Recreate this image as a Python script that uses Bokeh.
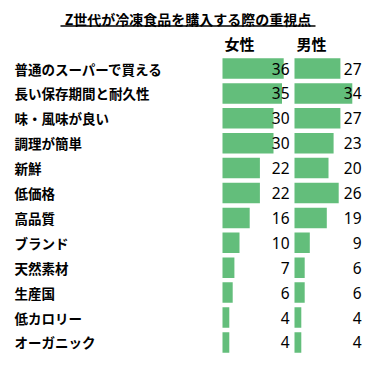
from bokeh.plotting import figure
from bokeh.models import ColumnDataSource, Range1d
from bokeh.core.properties import value
from bokeh.embed import file_html
from bokeh.resources import INLINE

title = "Z世代が冷凍食品を購入する際の重視点"
headers = ["女性", "男性"]
categories = ["普通のスーパーで買える", "長い保存期間と耐久性", "味・風味が良い", "調理が簡単",
              "新鮮", "低価格", "高品質", "ブランド", "天然素材", "生産国", "低カロリー", "オーガニック"]
female = [36, 35, 30, 30, 22, 22, 16, 10, 7, 6, 4, 4]
male = [27, 34, 27, 23, 20, 26, 19, 9, 6, 6, 4, 4]

W, H = 370, 360
PX = 1.7          # pixels per percentage point
ROW = 24.9        # row pitch in px
Y0 = 68           # first row centre (page px)
F0, M0 = 222, 294 # bar origins (page px)

rows = list(range(len(categories)))
src = ColumnDataSource(dict(y=rows, cat=categories, f=female, m=male,
                            ft=[str(v) for v in female], mt=[str(v) for v in male]))

p = figure(width=W, height=H, output_backend="svg", toolbar_location=None,
           x_range=Range1d(0, W),
           y_range=Range1d((H - Y0) / ROW, (0 - Y0) / ROW),
           min_border=0, outline_line_color=None)
p.axis.visible = False
p.grid.visible = False
p.extra_x_ranges = {
    "f": Range1d((0 - F0) / PX, (W - F0) / PX),
    "m": Range1d((0 - M0) / PX, (W - M0) / PX),
}

green = "#63BE7B"
p.hbar(y="y", left=0, right="f", height=20.5 / ROW, source=src, x_range_name="f",
       fill_color=green, line_color=None)
p.hbar(y="y", left=0, right="m", height=20.5 / ROW, source=src, x_range_name="m",
       fill_color=green, line_color=None)

jp = value("Noto Sans CJK JP")
p.text(x=14, y="y", text="cat", source=src, text_font=jp, text_font_style="bold",
       text_font_size="13.5px", text_baseline="middle", text_align="left", text_color="#000000")

num = value("Noto Sans")
p.text(x=289, y="y", text="ft", source=src, text_font=num, text_font_size="15.5px",
       text_baseline="middle", text_align="right", text_color="#000000")
p.text(x=361, y="y", text="mt", source=src, text_font=num, text_font_size="15.5px",
       text_baseline="middle", text_align="right", text_color="#000000")

# headers
hy = (43 - Y0) / ROW
p.text(x=[239, 311], y=[hy, hy], text=headers, text_font=jp, text_font_style="bold",
       text_font_size="15px", text_baseline="middle", text_align="center", text_color="#000000")

# title with underline
ty = (18 - Y0) / ROW
p.text(x=[187.5], y=[ty], text=[title], text_font=jp, text_font_style="bold",
       text_font_size="14px", text_baseline="middle", text_align="center", text_color="#000000")
uy = (25.5 - Y0) / ROW
p.segment(x0=[60], y0=[uy], x1=[315], y1=[uy], line_color="#000000", line_width=1.3)

open("out.html", "w").write(file_html(p, INLINE))
